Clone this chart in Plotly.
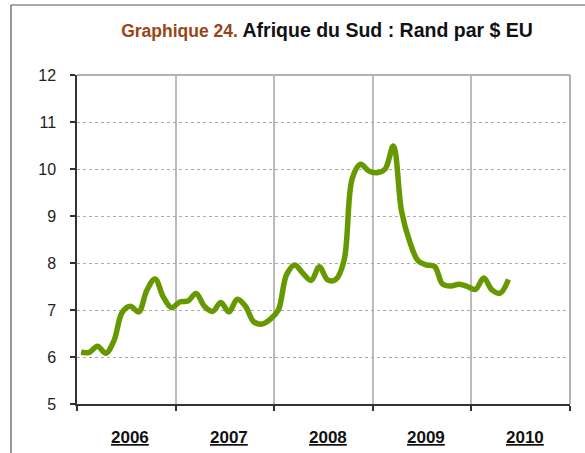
import plotly.graph_objects as go

# Monthly ZAR per USD, Jan 2006 - May 2010
rand_per_usd = [
    6.10, 6.10, 6.23, 6.08, 6.35, 6.95, 7.08, 6.96, 7.42, 7.66, 7.28, 7.05,   # 2006
    7.17, 7.19, 7.35, 7.08, 6.97, 7.16, 6.96, 7.23, 7.08, 6.75, 6.70, 6.80,   # 2007
    7.00, 7.75, 7.96, 7.78, 7.63, 7.92, 7.64, 7.65, 8.05, 9.80, 10.10, 9.96,  # 2008
    9.92, 10.00, 10.49, 9.10, 8.45, 8.05, 7.96, 7.93, 7.55, 7.51, 7.55, 7.50, # 2009
    7.44, 7.68, 7.43, 7.36, 7.65,                                             # 2010
]
years = ["2006", "2007", "2008", "2009", "2010"]
y_ticks = [5, 6, 7, 8, 9, 10, 11, 12]

month_pos = [i + 0.5 for i in range(len(rand_per_usd))]

fig = go.Figure()
fig.add_trace(go.Scatter(
    x=month_pos, y=rand_per_usd, mode="lines",
    line=dict(color="#669900", width=5.5, shape="spline", smoothing=1.0),
    hoverinfo="skip", showlegend=False,
))

fig.update_layout(
    width=585, height=453,
    margin=dict(l=77, r=15, t=75, b=49),
    paper_bgcolor="white", plot_bgcolor="white",
    font=dict(family="Liberation Sans, Arial, sans-serif", color="#222222"),
    title=dict(
        text="<span style='color:#9C4418;font-size:17.5px'>Graphique 24.</span> Afrique du Sud : Rand par $ EU",
        x=327 / 585, xanchor="center", xref="container",
        y=1 - 30 / 453, yanchor="middle", yref="container",
        font=dict(size=19.5, color="#111111", family="Liberation Sans, Arial, sans-serif", weight="bold"),
    ),
    xaxis=dict(
        range=[0, 60], tickvals=[0, 12, 24, 36, 48, 60], showticklabels=False,
        ticks="outside", ticklen=5, tickcolor="#333333", tickwidth=1.5,
        showgrid=True, gridcolor="#BBBBBB", gridwidth=1.5,
        showline=True, linecolor="#333333", linewidth=1.5, zeroline=False,
    ),
    yaxis=dict(
        range=[5, 12], tickvals=y_ticks, ticktext=[str(v) for v in y_ticks],
        ticks="outside", ticklen=5, tickcolor="#333333", tickwidth=1.5,
        ticklabelstandoff=11,
        tickfont=dict(size=16, color="#222222"),
        showgrid=True, gridcolor="#AAAAAA", gridwidth=1, griddash="dot",
        showline=True, linecolor="#333333", linewidth=1.5, zeroline=False,
    ),
)

# plot area top/right border (gray)
fig.add_shape(type="line", xref="paper", yref="paper", x0=0, x1=1, y0=1, y1=1,
              line=dict(color="#999999", width=1.5), layer="below")
fig.add_shape(type="line", xref="paper", yref="paper", x0=1, x1=1, y0=0, y1=1,
              line=dict(color="#999999", width=1.5), layer="below")

# outer frame
fx = (11 - 77) / 493
fy = (404 - 5) / 329
fig.add_shape(type="line", xref="paper", yref="paper", x0=fx, x1=fx, y0=-0.2, y1=fy,
              line=dict(color="#333333", width=1))
fig.add_shape(type="line", xref="paper", yref="paper", x0=fx, x1=1.2, y0=fy, y1=fy,
              line=dict(color="#555555", width=1))

# year labels centered in each year
for k, yr in enumerate(years):
    fig.add_annotation(
        x=12 * k + 6.5, y=(404 - 437) / 329, xref="x", yref="paper",
        text=f"<u><b>{yr}</b></u>", showarrow=False,
        xanchor="center", yanchor="middle",
        font=dict(size=17, color="#111111", family="Liberation Sans, Arial, sans-serif"),
    )

fig.write_html("out.html", config={"displayModeBar": False},
               post_script="document.body.style.margin='0';")
